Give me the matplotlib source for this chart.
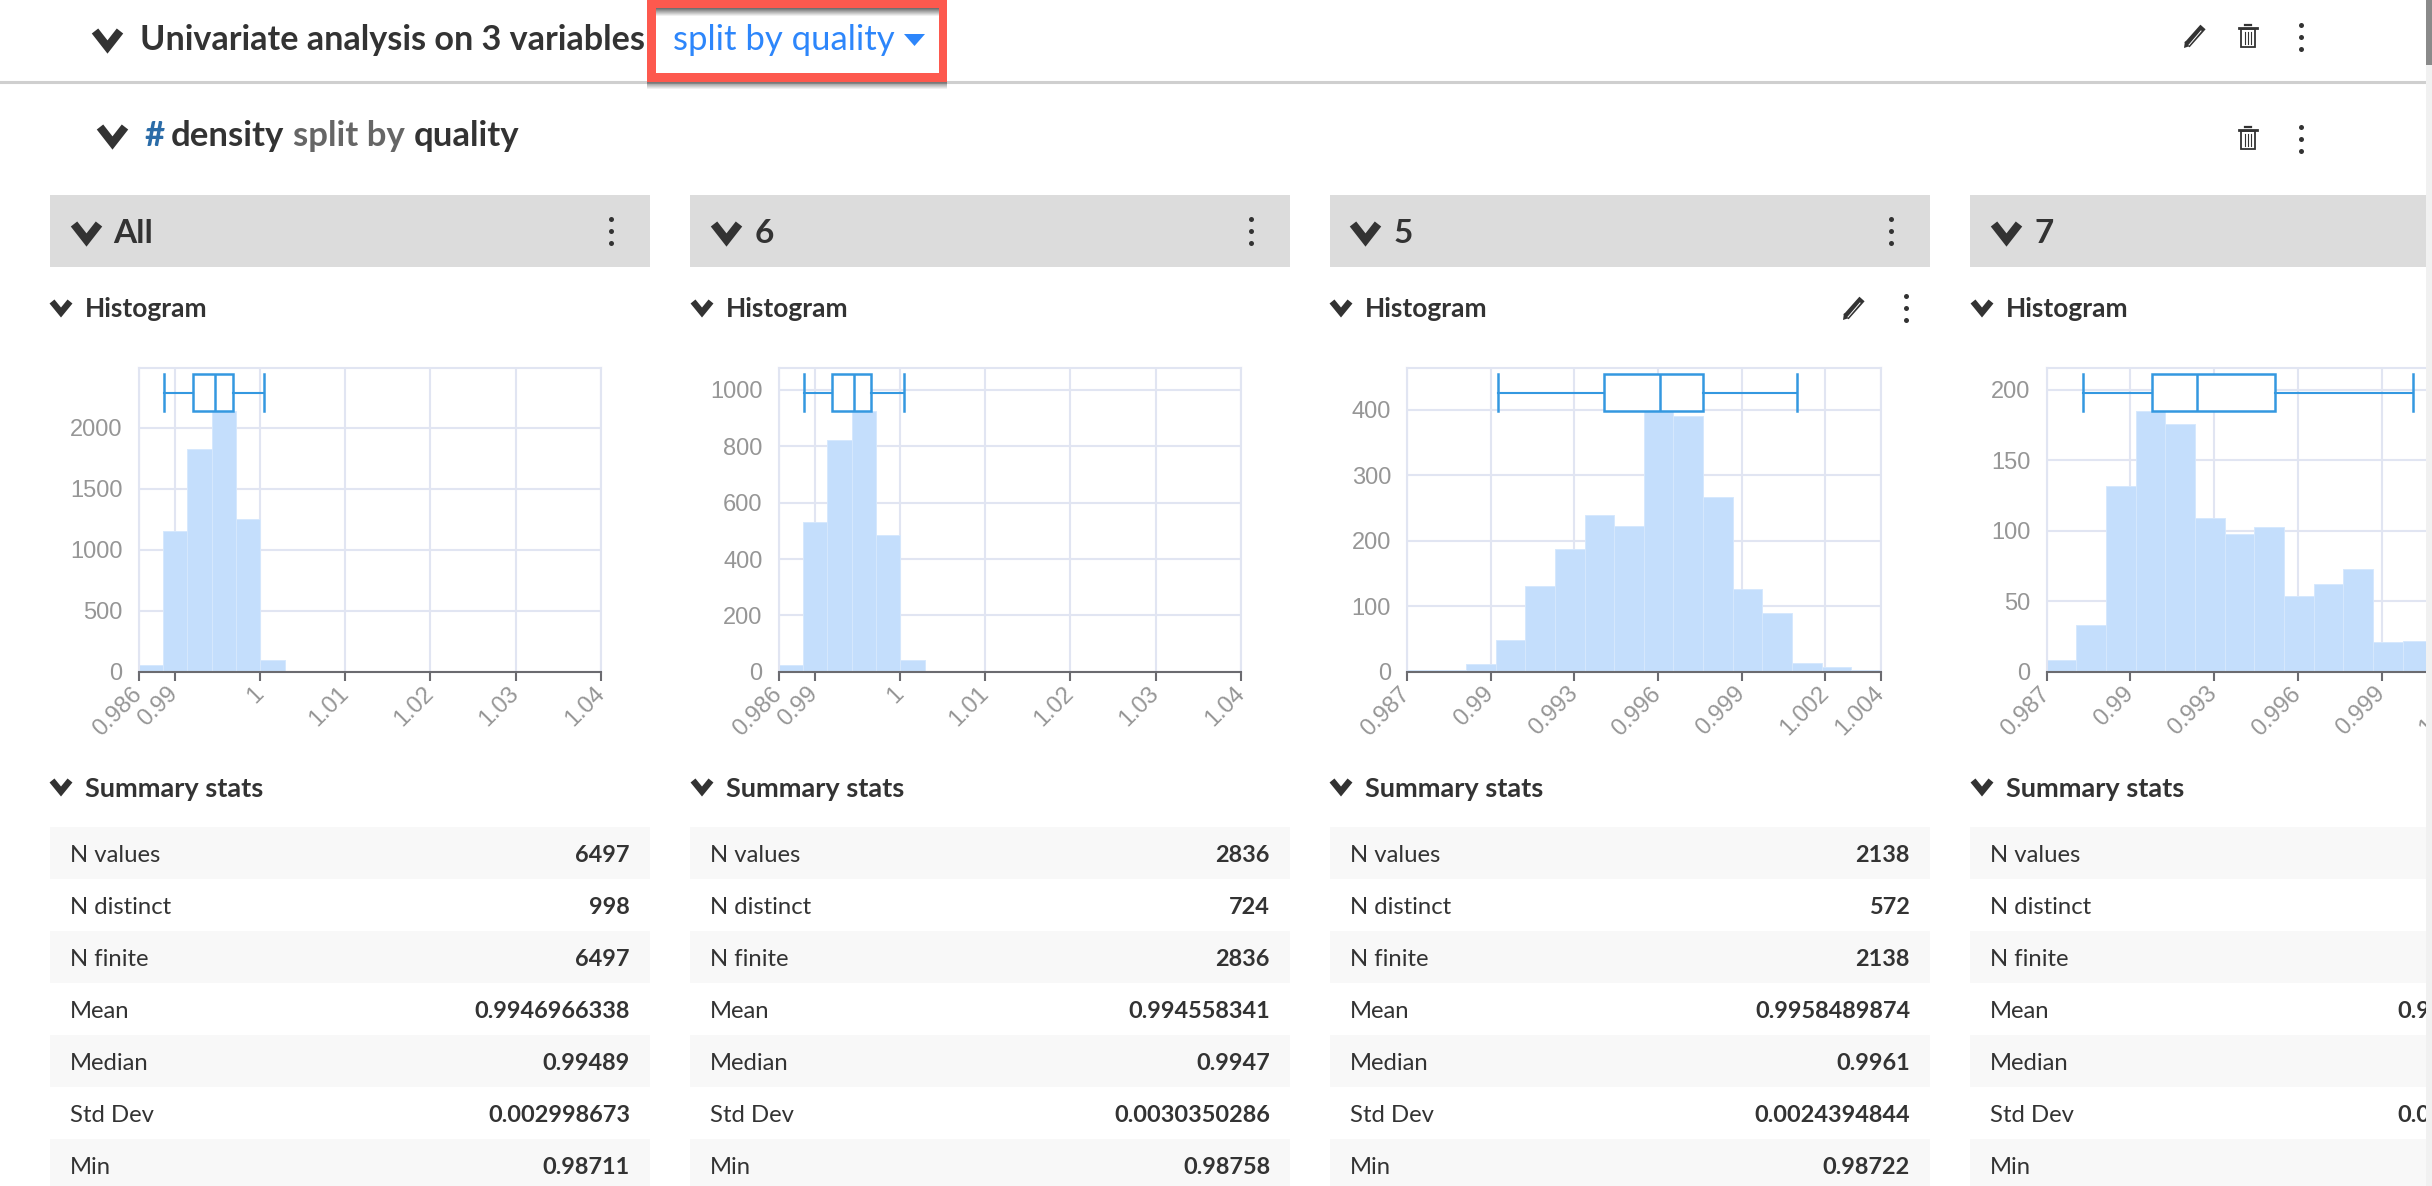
import numpy as np
import matplotlib.pyplot as plt

# Dados: contagens de cada histograma
titles = ["All", "6", "5", "7"]
counts_all = [55, 1152, 1830, 2140, 1250, 96, 5, 2, 1, 1, 0, 0, 0, 0, 0, 0, 0, 0, 1]
counts_6 = [24, 531, 824, 925, 484, 41, 1, 1, 1, 0, 0, 0, 0, 0, 0, 0, 0, 0, 0]
counts_5 = [2, 2, 12, 49, 131, 187, 239, 223, 398, 390, 267, 127, 89, 13, 7, 3]
counts_7 = [8, 33, 132, 185, 176, 109, 98, 103, 54, 62, 73, 21, 22]

# Inicio e largura dos bins
bin_start = [0.98578, 0.98578, 0.987, 0.987]
bin_width = [0.002855, 0.002855, 0.001062, 0.001063]

# Eixos
xlims = [(0.98578, 1.04), (0.98578, 1.04), (0.987, 1.004), (0.987, 1.004)]
xticks_wide = [0.98578, 0.99, 1.0, 1.01, 1.02, 1.03, 1.04]
xlabels_wide = ["0.986", "0.99", "1", "1.01", "1.02", "1.03", "1.04"]
xticks_5 = [0.987, 0.99, 0.993, 0.996, 0.999, 1.002, 1.004]
xlabels_5 = ["0.987", "0.99", "0.993", "0.996", "0.999", "1.002", "1.004"]
xticks_7 = [0.987, 0.99, 0.993, 0.996, 0.999, 1.002]
xlabels_7 = ["0.987", "0.99", "0.993", "0.996", "0.999", "1.002"]
yticks_all = [0, 500, 1000, 1500, 2000]
yticks_6 = [0, 200, 400, 600, 800, 1000]
yticks_5 = [0, 100, 200, 300, 400]
yticks_7 = [0, 50, 100, 150, 200]
ymax = [2492, 1078, 463.6, 215.6]

# Boxplots: whislo, q1, mediana, q3, whishi
box_all = [0.98874, 0.9922, 0.99478, 0.99687, 1.00046]
box_6 = [0.98879, 0.99206, 0.99465, 0.99664, 1.00046]
box_5 = [0.99025, 0.99406, 0.99607, 0.9976, 1.0010]
box_7 = [0.98829, 0.99078, 0.99238, 0.99518, 1.00014]

# Tabelas de resumo
stat_names = ["N values", "N distinct", "N finite", "Mean", "Median", "Std Dev", "Min"]
stats_all = ["6497", "998", "6497", "0.9946966338", "0.99489", "0.002998673", "0.98711"]
stats_6 = ["2836", "724", "2836", "0.994558341", "0.9947", "0.0030350286", "0.98758"]
stats_5 = ["2138", "572", "2138", "0.9958489874", "0.9961", "0.0024394844", "0.98722"]
stats_7 = ["", "", "", "0.9", "", "0.0", ""]  # o resto fica cortado na borda

W, H = 2432, 1186
ui_font = "Lato"
dark = "#333333"
blue = "#2d86fb"
bar_blue = "#c4defc"
box_blue = "#3498e0"
grid_color = "#e1e5f2"

plt.figure(figsize=(W / 100, H / 100), dpi=100)

# Fundo da pagina em coordenadas de pixel
plt.axes([0, 0, 1, 1])
plt.xlim(0, W)
plt.ylim(H, 0)
plt.axis("off")
bg = plt.gca()

# Linha do cabecalho
plt.plot([0, 2426], [82, 82], color="#cfcfcf", lw=2.2, zorder=1)

# Cabecalhos
plt.text(140, 50, "Univariate analysis on 3 variables", fontsize=24.6, family=ui_font, weight="bold", color=dark, zorder=2)
plt.text(144, 146, "#", fontsize=25, family=ui_font, weight="bold", color="#2b6ca8")
plt.text(171, 146, "density", fontsize=25, family=ui_font, weight="bold", color=dark)
plt.text(293, 146, "split by", fontsize=25, family=ui_font, weight="bold", color="#666666")
plt.text(414, 146, "quality", fontsize=25, family=ui_font, weight="bold", color=dark)

# Caixa vermelha em volta do seletor
for i in range(7):
    bg.add_patch(plt.Rectangle((647, 82 + i), 300, 1, color="#333333", alpha=0.55 - i * 0.08, lw=0, zorder=3))
bg.add_patch(plt.Rectangle((647, 0), 300, 82, color="#fd594e", lw=0, zorder=3))
bg.add_patch(plt.Rectangle((656, 8), 283, 65, color="white", lw=0, zorder=3))
for i in range(8):
    bg.add_patch(plt.Rectangle((656, 8 + i), 283, 1, color="#333333", alpha=0.7 - i * 0.09, lw=0, zorder=3))
plt.text(673, 50, "split by quality", fontsize=25, family=ui_font, color=blue, zorder=4)
bg.add_patch(plt.Polygon([(904, 34), (925, 34), (914.5, 46)], color=blue, lw=0, zorder=4))

# Faixas cinza, tabelas e subtitulos de cada coluna
card_x = [50, 690, 1330, 1970]
card_right = [650, 1290, 1930, 2426]
title_x = [113, 755, 1394, 2034]
chevron_x = [71, 711, 1350, 1991]
sub_x = [49, 690, 1329, 1970]
all_stats = [stats_all, stats_6, stats_5, stats_7]
chevrons = [(92, 39, 31, 20), (97, 135, 31, 20)]

for k in range(4):
    bg.add_patch(plt.Rectangle((card_x[k], 195), card_right[k] - card_x[k], 72, color="#dcdcdc", lw=0))
    plt.text(title_x[k], 243, titles[k], fontsize=24, family=ui_font, weight="bold", color=dark)
    plt.text(sub_x[k] + 36, 317, "Histogram", fontsize=19, family=ui_font, weight="bold", color=dark)
    plt.text(sub_x[k] + 36, 797, "Summary stats", fontsize=19.5, family=ui_font, weight="bold", color=dark)
    chevrons.append((chevron_x[k], 232, 31, 20))
    chevrons.append((sub_x[k], 307, 24, 15))
    chevrons.append((sub_x[k], 786, 24, 15))
    for r in range(7):
        y = 827 + r * 52
        if r % 2 == 0:
            bg.add_patch(plt.Rectangle((card_x[k], y), card_right[k] - card_x[k], 52, color="#f8f8f8", lw=0))
        plt.text(card_x[k] + 20, y + 35, stat_names[r], fontsize=17.2, family=ui_font, color=dark)
        if k < 3:
            plt.text(card_right[k] - 20, y + 35, all_stats[k][r], fontsize=16.9, family=ui_font, weight="bold", color=dark, ha="right")
        else:
            plt.text(2397, y + 35, all_stats[k][r], fontsize=16.9, family=ui_font, weight="bold", color=dark)

# Setas
for cx, cy, cw, ch in chevrons:
    plt.plot([cx + 3, cx + cw / 2, cx + cw - 3], [cy - ch / 2 + 2, cy + ch / 2 - 2, cy - ch / 2 + 2], color=dark, lw=cw * 0.19, solid_capstyle="butt", solid_joinstyle="miter")

# Menus de tres pontos
dots = [(2301, 37), (2301, 139), (611, 231), (1251, 231), (1891, 231), (1906, 308)]
for dx, dy in dots:
    plt.plot([dx, dx, dx], [dy - 12, dy, dy + 12], "o", color=dark, ms=3.6, mew=0)

# Lixeiras
for tx, ty in [(2248, 36), (2248, 138)]:
    bg.add_patch(plt.Rectangle((tx - 7, ty - 7), 14, 18, fill=False, ec=dark, lw=1.3))
    plt.plot([tx - 9, tx + 9], [ty - 8, ty - 8], color=dark, lw=2)
    plt.plot([tx - 3, tx + 3], [ty - 11, ty - 11], color=dark, lw=1.6)
    plt.plot([tx - 3, tx - 3], [ty - 4, ty + 8], color=dark, lw=0.8)
    plt.plot([tx, tx], [ty - 4, ty + 8], color=dark, lw=0.8)
    plt.plot([tx + 3, tx + 3], [ty - 4, ty + 8], color=dark, lw=0.8)

# Lapis
for px, py in [(2195, 36), (1854, 308)]:
    plt.plot([px - 8, px + 8], [py + 9, py - 9], color=dark, lw=5, solid_capstyle="butt")
    plt.plot([px - 6, px + 6], [py + 9, py - 5], color="white", lw=0.7)
    bg.add_patch(plt.Polygon([(px - 11, py + 12), (px - 10, py + 5), (px - 5, py + 10)], color=dark, lw=0))

plt.xlim(0, W)
plt.ylim(H, 0)

# Histogramas
axes_left = [138.7, 778.7, 1407, 2046.7]
axes_right = [601, 1241, 1881, 2521]
axes_top, axes_bottom = 368, 671.7
all_counts = [counts_all, counts_6, counts_5, counts_7]
all_boxes = [box_all, box_6, box_5, box_7]
all_yticks = [yticks_all, yticks_6, yticks_5, yticks_7]
all_xticks = [xticks_wide, xticks_wide, xticks_5, xticks_7]
all_xlabels = [xlabels_wide, xlabels_wide, xlabels_5, xlabels_7]

for k in range(4):
    plt.axes([axes_left[k] / W, 1 - axes_bottom / H, (axes_right[k] - axes_left[k]) / W, (axes_bottom - axes_top) / H])
    edges = bin_start[k] + np.arange(len(all_counts[k])) * bin_width[k]
    plt.bar(edges, all_counts[k], width=bin_width[k], align="edge", color=bar_blue, edgecolor="#d6e8fd", linewidth=0.7)
    plt.xlim(xlims[k])
    plt.ylim(0, ymax[k])
    plt.xticks(all_xticks[k], all_xlabels[k], rotation=45, ha="right", va="center", rotation_mode="anchor", family="Liberation Sans", fontsize=17, color="#969696")
    plt.yticks(all_yticks[k], family="Liberation Sans", fontsize=17, color="#969696")
    plt.grid(color=grid_color, linewidth=1.5)
    plt.gca().set_axisbelow(True)
    plt.tick_params(axis="x", length=6.5, width=1.5, color="#6b6b70", pad=7)
    plt.tick_params(axis="y", length=0, pad=11.5)
    for side in ["left", "top", "right"]:
        plt.gca().spines[side].set_color(grid_color)
        plt.gca().spines[side].set_linewidth(1.5)
    plt.gca().spines["bottom"].set_color("#6b6b70")
    plt.gca().spines["bottom"].set_linewidth(1.5)

    # Boxplot na parte de cima
    plt.twinx()
    lo, q1, med, q3, hi = all_boxes[k]
    stats = [{"whislo": lo, "q1": q1, "med": med, "q3": q3, "whishi": hi, "fliers": []}]
    plt.gca().bxp(stats, positions=[0.9193], widths=[0.1218], capwidths=[0.1218], orientation="horizontal", patch_artist=True, showfliers=False, manage_ticks=False,
                  boxprops=dict(facecolor="white", edgecolor=box_blue, linewidth=1.8),
                  medianprops=dict(color=box_blue, linewidth=1.8),
                  whiskerprops=dict(color=box_blue, linewidth=1.5),
                  capprops=dict(color=box_blue, linewidth=1.8))
    plt.ylim(0, 1)
    plt.yticks([])
    for side in plt.gca().spines:
        plt.gca().spines[side].set_visible(False)

# Barra de rolagem por cima de tudo
plt.axes([0, 0, 1, 1])
plt.xlim(0, W)
plt.ylim(H, 0)
plt.axis("off")
plt.gca().patch.set_visible(False)
plt.gca().add_patch(plt.Rectangle((2426, 0), 6, H, color="#f1f1f1", lw=0))
plt.gca().add_patch(plt.Rectangle((2426, 0), 6, 65, color="#8a8a8a", lw=0))

plt.savefig("out.png", dpi=100)
plt.close()
print("Figura salva: out.png")
